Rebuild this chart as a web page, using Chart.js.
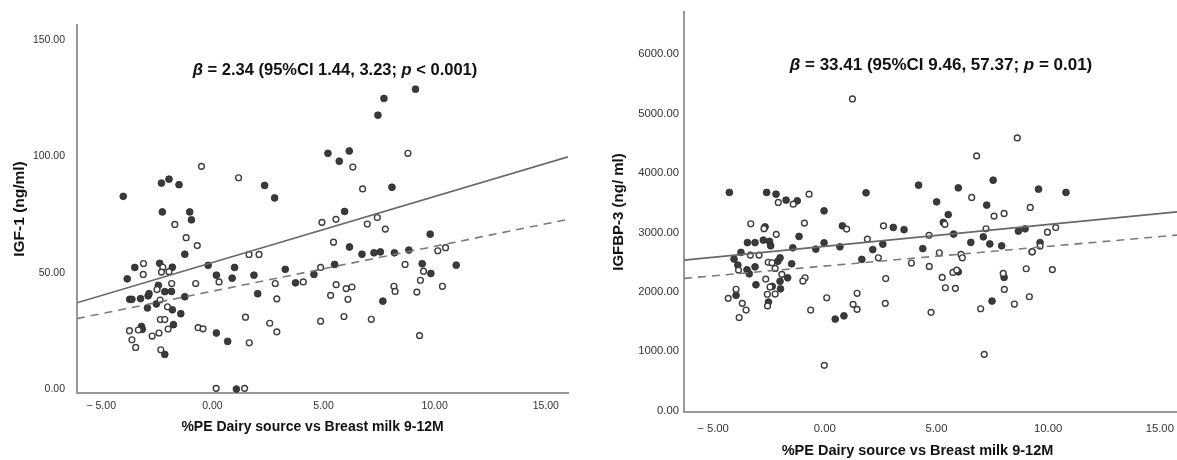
<!DOCTYPE html>
<html><head><meta charset="utf-8">
<script src="https://cdn.jsdelivr.net/npm/chart.js@4/dist/chart.umd.min.js"></script>
<style>
html,body{margin:0;padding:0;background:#fff;overflow:hidden;}
#wrap{position:relative;width:1177px;height:460px;overflow:hidden;background:#fff;}
#c1{position:absolute;left:0;top:0;}
#c2{position:absolute;left:590px;top:0;}
</style></head><body>
<div id="wrap"><canvas id="c1" width="590" height="460"></canvas><canvas id="c2" width="600" height="460"></canvas></div>
<script>
// ---------- shared text ----------
const xAxisTitle = '%PE Dairy source vs Breast milk 9-12M';
const xTickValues = [-5, 0, 5, 10, 15];

// ---------- left panel: IGF-1 ----------
const igfTitle = 'IGF-1 (ng/ml)';
const igfStat = {beta: '2.34', ci: '1.44, 3.23', p: '< 0.001'};
const igfYTicks = [0, 50, 100, 150];
const igfFilledX = [-4.01,-2.29,-1.95,-1.50,-2.25,-1.02,-0.94,2.35,2.80,-1.24,-0.19,-3.49,-2.37,-1.80,-3.83,0.18,1.00,0.89,1.87,2.04,3.28,3.74,-1.24,-1.42,-3.72,-3.62,-3.23,-2.89,-2.85,-2.92,-2.52,-2.43,-2.14,-1.84,-1.80,-1.75,-3.19,-3.15,-2.14,0.18,0.69,1.08,9.14,7.72,7.45,5.20,6.16,5.71,8.08,5.95,9.80,6.17,6.73,7.27,7.56,8.19,8.84,5.50,4.57,9.44,9.83,10.97,7.67];
const igfFilledY = [82.9,88.6,90.3,87.9,76.2,76.2,72.8,87.6,82.2,58.0,53.2,52.3,54.1,52.4,47.4,49.0,52.3,47.7,49.0,41.0,51.5,45.7,39.7,32.4,38.6,38.6,38.9,40.1,41.0,34.9,36.6,44.6,41.9,42.0,34.1,27.7,26.9,25.7,14.9,24.1,20.5,0.0,129.0,125.0,117.8,101.4,102.4,98.0,86.8,76.4,66.6,61.1,58.0,58.6,59.0,58.6,59.8,53.6,49.3,53.9,49.7,53.3,37.8];
const igfOpenX = [-0.49,1.18,-1.69,-1.18,-0.68,1.65,2.10,-3.10,-2.23,-2.29,-1.95,-3.11,0.30,-1.83,-0.75,2.83,2.90,-2.49,-2.35,-2.02,-2.34,-2.14,-1.99,-3.73,-3.33,-3.62,-3.45,-2.71,-2.40,-2.32,-0.64,-0.42,1.49,1.66,2.58,2.90,0.17,1.45,4.93,5.56,6.97,7.42,7.78,8.80,6.32,6.76,5.45,10.14,10.49,4.87,4.09,8.67,9.50,9.36,5.57,6.02,6.28,5.32,6.10,8.17,8.22,9.20,10.35,4.87,5.92,7.15,9.32];
const igfOpenY = [95.8,90.9,70.8,65.1,61.7,57.9,57.9,54.0,52.4,50.3,50.5,49.3,46.1,45.4,45.4,45.4,38.8,42.8,38.3,35.4,29.9,29.9,25.8,25.1,25.4,21.2,17.9,22.8,24.1,16.9,26.4,25.9,30.9,19.9,28.3,24.6,0.3,0.3,71.7,73.0,71.0,73.8,68.8,101.4,95.5,86.1,63.2,59.5,60.8,52.3,46.1,53.6,50.7,46.8,44.9,43.2,43.9,40.3,38.6,44.2,42.0,41.7,44.2,29.2,31.2,30.0,23.0];
const igfLineX = [-6.09, 16.0];
const igfSolidY = [37.1, 99.9];
const igfDashedY = [30.3, 73.0];

// ---------- right panel: IGFBP-3 ----------
const bpTitle = 'IGFBP-3 (ng/ ml)';
const bpStat = {beta: '33.41', ci: '9.46, 57.37', p: '= 0.01'};
const bpYTicks = [0, 1000, 2000, 3000, 4000, 5000, 6000];
const bpFilledX = [-4.27,-2.60,-2.18,-1.73,-1.23,-0.03,1.85,0.79,4.20,5.98,7.54,9.57,10.80,5.01,7.25,5.53,5.31,3.07,3.55,5.77,8.67,8.97,2.60,2.15,4.39,6.54,7.10,7.39,7.92,9.64,9.28,5.98,8.03,7.49,-3.46,-3.12,-2.75,-2.47,-2.42,-1.15,-0.03,-1.43,-0.40,0.68,1.66,-3.75,-4.06,-3.89,-3.48,-3.38,-3.12,-2.10,-2.00,-1.48,-1.66,-2.00,-2.35,-1.98,-3.08,-3.97,-2.52,0.47,0.86,-2.67];
const bpFilledY = [3673,3673,3645,3544,3532,3364,3667,3111,3796,3751,3880,3729,3673,3515,3460,3300,3169,3084,3047,2972,3022,3061,2803,2711,2728,2832,2926,2807,2775,2829,2674,2337,2243,1844,2829,2829,2871,2849,2775,2933,2825,2741,2719,2758,2546,2664,2551,2450,2371,2304,2421,2514,2573,2472,2236,2176,2092,2050,2119,1940,1827,1541,1595,3094];
const bpOpenX = [-2.08,-1.41,-0.70,1.24,-3.31,-0.91,-2.72,2.63,8.62,6.80,6.58,7.58,8.03,9.20,5.38,7.22,9.97,10.34,4.67,9.64,2.40,3.88,4.68,5.13,6.10,6.16,9.29,2.73,2.71,4.76,5.26,5.40,5.74,5.91,5.85,7.99,8.04,9.02,10.19,6.98,8.49,9.16,7.14,-2.17,0.98,1.91,-3.33,-2.94,-3.86,-2.53,-2.36,-2.22,-1.92,-2.64,-2.45,-0.88,-0.98,-3.97,-4.32,-3.69,-3.52,-3.83,-2.57,-2.22,-2.56,-0.63,0.09,1.45,1.27,1.45,-0.02];
const bpOpenY = [3505,3476,3645,5248,3145,3157,3064,3111,4592,4289,3589,3275,3320,3421,3137,3061,3005,3081,2951,2770,2573,2484,2428,2657,2630,2573,2674,2223,1806,1654,2243,2068,2327,2366,2058,2310,2041,2388,2374,1715,1794,1917,947,2968,3056,2888,2618,2618,2366,2497,2489,2394,2294,2214,2080,2236,2181,2043,1890,1806,1693,1567,1959,1962,1763,1693,1900,1975,1789,1705,762];
const bpLineX = [-6.3, 15.77];
const bpSolidY = [2534, 3347];
const bpDashedY = [2226, 2955];

// ---------- helpers ----------
const FAMILY = '"Liberation Sans", Arial, Helvetica, sans-serif';
const zip = (xs, ys) => xs.map((x, i) => ({x, y: ys[i]}));
const fmt = v => v < 0 ? '\u2212 ' + Math.abs(v).toFixed(2) : Number(v).toFixed(2);

const annotPlugin = {
  id: 'annot',
  afterDraw(chart, args, o) {
    const ctx = chart.ctx, a = chart.chartArea;
    ctx.save();
    ctx.fillStyle = '#111';
    ctx.textBaseline = 'middle';
    const segs = o.stat.segments;
    const fonts = segs.map(s => (s.italic ? 'italic ' : '') + 'bold ' + o.stat.size + 'px ' + FAMILY);
    let total = 0;
    const ws = segs.map((s, i) => { ctx.font = fonts[i]; const w = ctx.measureText(s.text).width; total += w; return w; });
    let x = a.left + o.stat.dx - total / 2;
    const y = a.top + o.stat.dy;
    ctx.textAlign = 'left';
    segs.forEach((s, i) => { ctx.font = fonts[i]; ctx.fillText(s.text, x, y); x += ws[i]; });
    ctx.font = 'bold ' + o.xTitle.size + 'px ' + FAMILY;
    ctx.textAlign = 'center';
    ctx.fillText(o.xTitle.text, a.left + o.xTitle.dx, a.bottom + o.xTitle.dy);
    ctx.restore();
  }
};

function statSegments(s) {
  return [
    {text: '\u03B2', italic: true},
    {text: ' = ' + s.beta + ' (95%CI ' + s.ci + '; '},
    {text: 'p', italic: true},
    {text: ' ' + s.p + ')'}
  ];
}

function makeChart(id, c) {
  return new Chart(document.getElementById(id), {
    type: 'scatter',
    data: {
      datasets: [
        {data: zip(c.lineX, c.solidY), showLine: true, pointRadius: 0, borderColor: '#686868', borderWidth: 1.6, fill: false, order: 0},
        {data: zip(c.lineX, c.dashedY), showLine: true, pointRadius: 0, borderColor: '#7a7a7a', borderWidth: 1.6, borderDash: [8, 6], fill: false, order: 0},
        {data: zip(c.openX, c.openY), pointRadius: 2.9, pointBorderWidth: 1.4, pointBackgroundColor: '#ffffff', pointBorderColor: '#3c3c3c', order: 1},
        {data: zip(c.filledX, c.filledY), pointRadius: 3.4, pointBorderWidth: 0.8, pointBackgroundColor: '#3a3a3a', pointBorderColor: '#2a2a2a', order: 2}
      ]
    },
    options: {
      responsive: false,
      animation: false,
      layout: {padding: c.padding},
      plugins: {
        legend: {display: false},
        tooltip: {enabled: false},
        annot: {stat: {segments: statSegments(c.stat), size: c.statSize, dx: c.statDx, dy: c.statDy},
                xTitle: {text: xAxisTitle, size: c.xTitleSize, dx: c.xTitleDx, dy: c.xTitleDy}}
      },
      scales: {
        x: {
          type: 'linear', min: c.xMin, max: c.xMax,
          afterBuildTicks: s => { s.ticks = xTickValues.map(v => ({value: v})); },
          afterFit: s => { s.height = c.xAxisHeight; },
          ticks: {autoSkip: false, maxRotation: 0, padding: c.xTickPad, color: '#333', font: {family: FAMILY, size: c.tickSize}, callback: v => fmt(v)},
          grid: {display: false, drawTicks: false},
          border: {display: true, color: '#999', width: 2}
        },
        y: {
          type: 'linear', min: c.yMin, max: c.yMax,
          afterBuildTicks: s => { s.ticks = c.yTicks.map(v => ({value: v})); },
          afterFit: s => { s.width = c.yAxisWidth; },
          ticks: {autoSkip: false, padding: c.yTickPad, color: '#333', font: {family: FAMILY, size: c.tickSize}, callback: v => fmt(v)},
          grid: {display: false, drawTicks: false},
          border: {display: true, color: '#999', width: 2},
          title: {display: true, text: c.yTitle, color: '#111', font: {family: FAMILY, size: c.yTitleSize, weight: 'bold'}, padding: {top: c.yTitlePad, bottom: 0}}
        }
      }
    },
    plugins: [annotPlugin]
  });
}

makeChart('c1', {
  filledX: igfFilledX, filledY: igfFilledY, openX: igfOpenX, openY: igfOpenY,
  lineX: igfLineX, solidY: igfSolidY, dashedY: igfDashedY,
  stat: igfStat, yTicks: igfYTicks, yTitle: igfTitle,
  xMin: -6.09, xMax: 16.0, yMin: -1.7, yMax: 156.6,
  padding: {left: 0, top: 25, right: 22, bottom: 0},
  xAxisHeight: 67, yAxisWidth: 77, xTickPad: 7, yTickPad: 12, tickSize: 10.5,
  yTitleSize: 15.5, yTitlePad: 10.7,
  statSize: 16.5, statDx: 258, statDy: 45,
  xTitleSize: 14, xTitleDx: 235.5, xTitleDy: 34
});

makeChart('c2', {
  filledX: bpFilledX, filledY: bpFilledY, openX: bpOpenX, openY: bpOpenY,
  lineX: bpLineX, solidY: bpSolidY, dashedY: bpDashedY,
  stat: bpStat, yTicks: bpYTicks, yTitle: bpTitle,
  xMin: -6.3, xMax: 15.77, yMin: -24, yMax: 6712,
  padding: {left: 0, top: 12, right: 13, bottom: 0},
  xAxisHeight: 48, yAxisWidth: 94, xTickPad: 10, yTickPad: 5, tickSize: 11.3,
  yTitleSize: 15, yTitlePad: 20,
  statSize: 17, statDx: 257, statDy: 53,
  xTitleSize: 14.5, xTitleDx: 233.5, xTitleDy: 39
});
</script>
</body></html>
